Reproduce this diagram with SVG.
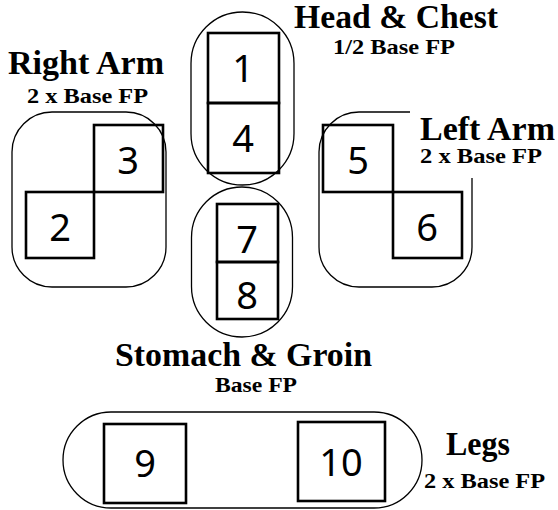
<svg xmlns="http://www.w3.org/2000/svg" width="558" height="510" viewBox="0 0 558 510">
<style>
.grp{fill:none;stroke:#000;stroke-width:1.3}
.box{fill:none;stroke:#000;stroke-width:2.6}
.num{font-family:"Noto Sans","DejaVu Sans",sans-serif;font-size:38px;text-anchor:middle;fill:#000}
.t{font-family:"Liberation Serif","Times New Roman",serif;font-weight:bold;fill:#000}
.h{font-size:33px}
.s{font-size:21px}
</style>
<rect width="558" height="510" fill="#fff"/>
<g id="right-arm">
<rect class="grp" x="12" y="112" width="154" height="175" rx="40"/>
<rect class="box" x="94" y="125" width="69" height="67"/>
<rect class="box" x="26" y="192" width="68" height="66"/>
<text class="num" x="128" y="174">3</text>
<text class="num" x="60" y="241">2</text>
<text class="t h" x="8" y="74" textLength="156" lengthAdjust="spacingAndGlyphs">Right Arm</text>
<text class="t s" x="27" y="103" textLength="121" lengthAdjust="spacingAndGlyphs">2 x Base FP</text>
</g>
<g id="head-chest">
<rect class="grp" x="191" y="12" width="103" height="173" rx="51.5"/>
<rect class="box" x="208" y="33" width="71" height="70"/>
<rect class="box" x="208" y="103" width="71" height="70"/>
<text class="num" x="243" y="82">1</text>
<text class="num" x="243" y="152">4</text>
<text class="t h" x="294" y="28" textLength="204" lengthAdjust="spacingAndGlyphs">Head &amp; Chest</text>
<text class="t s" x="333" y="54" textLength="122" lengthAdjust="spacingAndGlyphs">1/2 Base FP</text>
</g>
<g id="left-arm">
<path class="grp" d="M410 112 H359 A40 40 0 0 0 319 152 V247 A40 40 0 0 0 359 287 H432 A40 40 0 0 0 472 247 V178"/>
<rect class="box" x="323" y="125" width="70" height="67"/>
<rect class="box" x="393" y="192" width="69" height="66"/>
<text class="num" x="358" y="174">5</text>
<text class="num" x="427" y="241">6</text>
<text class="t h" x="420" y="140" textLength="135" lengthAdjust="spacingAndGlyphs">Left Arm</text>
<text class="t s" x="420" y="163" textLength="122" lengthAdjust="spacingAndGlyphs">2 x Base FP</text>
</g>
<g id="stomach-groin">
<rect class="grp" x="191.5" y="187" width="101" height="150" rx="50.5"/>
<rect class="box" x="217" y="204" width="61" height="58"/>
<rect class="box" x="217" y="262" width="61" height="57"/>
<text class="num" x="247" y="253">7</text>
<text class="num" x="247" y="309">8</text>
<text class="t h" x="115" y="366" textLength="257" lengthAdjust="spacingAndGlyphs">Stomach &amp; Groin</text>
<text class="t s" x="215" y="392" textLength="82" lengthAdjust="spacingAndGlyphs">Base FP</text>
</g>
<g id="legs">
<rect class="grp" x="63" y="412" width="359" height="96" rx="48"/>
<rect class="box" x="104" y="424" width="82" height="79"/>
<rect class="box" x="298" y="422" width="87" height="79"/>
<text class="num" x="145" y="477">9</text>
<text class="num" x="341" y="476">10</text>
<text class="t h" x="446" y="455" textLength="64" lengthAdjust="spacingAndGlyphs">Legs</text>
<text class="t s" x="424" y="488" textLength="121" lengthAdjust="spacingAndGlyphs">2 x Base FP</text>
</g>
<g id="connectors"/>
</svg>
